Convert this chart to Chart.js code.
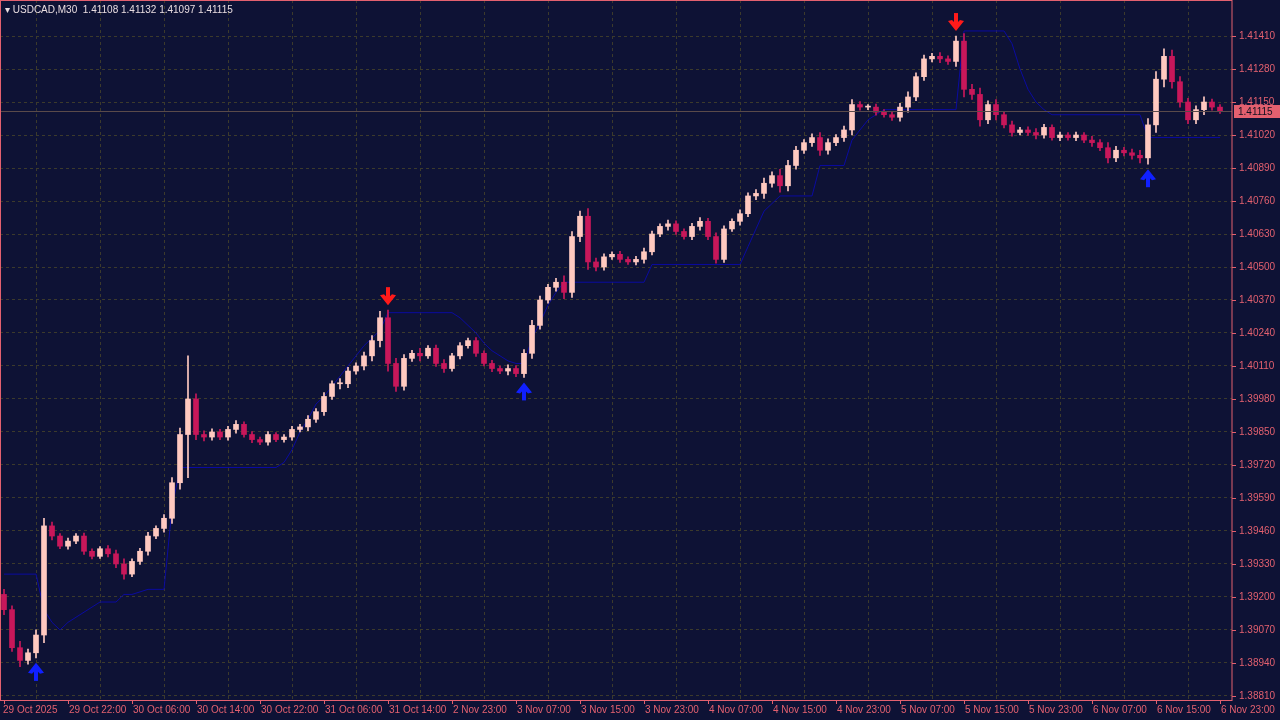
<!DOCTYPE html>
<html>
<head>
<meta charset="utf-8">
<script src="https://cdn.jsdelivr.net/npm/chart.js@4.4.1/dist/chart.umd.min.js"></script>
<style>
  html, body { margin: 0; padding: 0; background: #0e1235; }
  #wrap { width: 1280px; height: 720px; position: relative; }
</style>
</head>
<body>
<div id="wrap"><canvas id="chart" width="1280" height="720"></canvas></div>
<script>
"use strict";

// hourly closes (first open given separately)
var firstOpen = 1.3921;
var closes = [
  1.3915, 1.3900, 1.3895, 1.3898, 1.3905, 1.3948, 1.3944, 1.3940, 1.3942, 1.3944,
  1.3938, 1.3936, 1.3939, 1.3937, 1.3933, 1.3929, 1.3934, 1.3938, 1.3944, 1.3947,
  1.3951, 1.3965, 1.3984, 1.3998, 1.3984, 1.3983, 1.3985, 1.3983, 1.3986, 1.3988,
  1.3984, 1.3982, 1.3981, 1.3984, 1.3982, 1.3983, 1.3986, 1.3987, 1.3990, 1.3993,
  1.3999, 1.4004, 1.4004, 1.4009, 1.4011, 1.4015, 1.4021, 1.4030, 1.4012, 1.4003,
  1.4014, 1.4016, 1.4015, 1.4018, 1.4012, 1.4010, 1.4015, 1.4019, 1.4021, 1.4016,
  1.4012, 1.4010, 1.4009, 1.4010, 1.4008, 1.4016, 1.4027, 1.4037, 1.4042, 1.4044,
  1.4040, 1.4062, 1.4070, 1.4052, 1.4050, 1.4054, 1.4055, 1.4053, 1.4052, 1.4053,
  1.4056, 1.4063, 1.4066, 1.4067, 1.4064, 1.4062, 1.4066, 1.4068, 1.4062, 1.4053,
  1.4065, 1.4068, 1.4071, 1.4078, 1.4079, 1.4083, 1.4086, 1.4082, 1.4090, 1.4096,
  1.4099, 1.4101, 1.4096, 1.4099, 1.4101, 1.4104, 1.4114, 1.4113, 1.4113, 1.4111,
  1.4110, 1.4109, 1.4113, 1.4117, 1.4125, 1.4132, 1.4133, 1.4132, 1.4131, 1.4139,
  1.4120, 1.4118, 1.4108, 1.4114, 1.4110, 1.4106, 1.4103, 1.4104, 1.4103, 1.4102,
  1.4105, 1.4101, 1.4102, 1.4101, 1.4102, 1.4100, 1.4099, 1.4097, 1.4093, 1.4096,
  1.4095, 1.4094, 1.4093, 1.4106, 1.4124, 1.4133, 1.4123, 1.4115, 1.4108, 1.4112,
  1.4115, 1.4113, 1.41115
];

// wick length per candle, in units of 0.00001
var wicks = [
  20, 15, 25, 15, 20, 30, 15, 10, 12, 10,
  12, 10, 8, 12, 15, 20, 10, 12, 15, 10,
  15, 20, 25, 170, 20, 15, 12, 10, 12, 15,
  10, 12, 10, 12, 8, 10, 12, 10, 15, 12,
  15, 12, 20, 15, 12, 15, 20, 25, 30, 20,
  15, 12, 20, 10, 12, 15, 10, 12, 10, 12,
  10, 12, 10, 15, 12, 15, 20, 15, 12, 15,
  25, 20, 20, 30, 15, 12, 10, 12, 10, 12,
  15, 12, 10, 15, 12, 10, 12, 15, 12, 15,
  12, 10, 15, 12, 15, 20, 15, 25, 20, 15,
  12, 15, 20, 15, 12, 15, 20, 12, 10, 12,
  10, 12, 15, 20, 15, 15, 12, 15, 12, 20,
  30, 20, 25, 15, 20, 12, 15, 10, 12, 15,
  12, 10, 12, 10, 12, 10, 15, 12, 20, 15,
  12, 15, 20, 25, 30, 30, 25, 20, 15, 15,
  20, 12, 10
];

// trend stop line
var stopLine = [
  1.3929, 1.3929, 1.3929, 1.3929, 1.3929, 1.3915, 1.3910, 1.3907, 1.3910, 1.3912,
  1.3914, 1.3916, 1.3918, 1.3918, 1.3918, 1.3921, 1.3921, 1.3922, 1.3923, 1.3923,
  1.3923, 1.3955, 1.3971, 1.3971, 1.3971, 1.3971, 1.3971, 1.3971, 1.3971, 1.3971,
  1.3971, 1.3971, 1.3971, 1.3971, 1.3971, 1.3973, 1.3978, 1.3985, 1.3990, 1.3996,
  1.3999, 1.4003, 1.4007, 1.4011, 1.4015, 1.4019, 1.4022, 1.4025, 1.4032, 1.4032,
  1.4032, 1.4032, 1.4032, 1.4032, 1.4032, 1.4032, 1.4032, 1.4030, 1.4027, 1.4024,
  1.4020, 1.4017, 1.4015, 1.4013, 1.4012, 1.4012, 1.4022, 1.4028, 1.4035, 1.4040,
  1.4044, 1.4044, 1.4044, 1.4044, 1.4044, 1.4044, 1.4044, 1.4044, 1.4044, 1.4044,
  1.4044, 1.4051, 1.4051, 1.4051, 1.4051, 1.4051, 1.4051, 1.4051, 1.4051, 1.4051,
  1.4051, 1.4051, 1.4051, 1.4058, 1.4065, 1.4072, 1.4075, 1.4078, 1.4078, 1.4078,
  1.4078, 1.4078, 1.4090, 1.4090, 1.4090, 1.4090, 1.4100, 1.4104, 1.4108, 1.4110,
  1.4112, 1.4112, 1.4112, 1.4112, 1.4112, 1.4112, 1.4112, 1.4112, 1.4112, 1.4112,
  1.4143, 1.4143, 1.4143, 1.4143, 1.4143, 1.4143, 1.4138, 1.4128, 1.4120, 1.4115,
  1.4112, 1.4110, 1.4110, 1.4110, 1.4110, 1.4110, 1.4110, 1.4110, 1.4110, 1.4110,
  1.4110, 1.4110, 1.4110, 1.4101, 1.4101, 1.4101, 1.4101, 1.4101, 1.4101, 1.4101,
  1.4101, 1.4101, 1.4101
];

// time labels every 8 hourly bars
var timeLabels = [
  "29 Oct 2025", "29 Oct 22:00", "30 Oct 06:00", "30 Oct 14:00", "30 Oct 22:00",
  "31 Oct 06:00", "31 Oct 14:00", "2 Nov 23:00", "3 Nov 07:00", "3 Nov 15:00",
  "3 Nov 23:00", "4 Nov 07:00", "4 Nov 15:00", "4 Nov 23:00", "5 Nov 07:00",
  "5 Nov 15:00", "5 Nov 23:00", "6 Nov 07:00", "6 Nov 15:00", "6 Nov 23:00"
];

var priceTicks = [1.38810, 1.38940, 1.39070, 1.39200, 1.39330, 1.39460, 1.39590, 1.39720,
  1.39850, 1.39980, 1.40110, 1.40240, 1.40370, 1.40500, 1.40630, 1.40760, 1.40890,
  1.41020, 1.41150, 1.41280, 1.41410];

var arrowsUp = [4, 65, 143];
var arrowsDown = [48, 119];
var lastPrice = 1.41115;

var opens = closes.map(function (c, i) { return i === 0 ? firstOpen : closes[i - 1]; });
var bodies = closes.map(function (c, i) { return { x: i, y: [opens[i], c] }; });
var ranges = closes.map(function (c, i) {
  var w = wicks[i] / 100000;
  return { x: i, y: [Math.min(opens[i], c) - w, Math.max(opens[i], c) + w] };
});
var stopPts = stopLine.map(function (v, i) { return { x: i, y: v }; });
var colors = closes.map(function (c, i) { return c >= opens[i] ? "#ffc9c0" : "#c8175a"; });

var AXIS = "#e3606f";
var FONT = "10px 'Liberation Sans', Arial, sans-serif";

var decorPlugin = {
  id: "decor",
  beforeDraw: function (chart) {
    var ctx = chart.ctx;
    ctx.save();
    ctx.fillStyle = "#0e1235";
    ctx.fillRect(0, 0, chart.width, chart.height);
    ctx.restore();
  },
  afterDatasetsDraw: function (chart) {
    var ctx = chart.ctx, xs = chart.scales.x, ys = chart.scales.y, area = chart.chartArea;
    ctx.save();
    // last price line
    var py = Math.round(ys.getPixelForValue(lastPrice));
    ctx.strokeStyle = "#5a4a4a";
    ctx.lineWidth = 1;
    ctx.beginPath(); ctx.moveTo(area.left, py + 0.5); ctx.lineTo(area.right, py + 0.5); ctx.stroke();
    // arrows
    function arrow(x, y, dir, col) {
      ctx.strokeStyle = col; ctx.fillStyle = col; ctx.lineWidth = 4;
      ctx.beginPath(); ctx.moveTo(x, y + dir * 4); ctx.lineTo(x, y + dir * 18); ctx.stroke();
      ctx.beginPath();
      ctx.moveTo(x - 8, y + dir * 10); ctx.lineTo(x, y); ctx.lineTo(x + 8, y + dir * 10);
      ctx.lineTo(x + 4, y + dir * 11); ctx.lineTo(x, y + dir * 7); ctx.lineTo(x - 4, y + dir * 11);
      ctx.closePath(); ctx.fill();
    }
    arrowsUp.forEach(function (i) {
      arrow(xs.getPixelForValue(i), ys.getPixelForValue(ranges[i].y[0]) + 5, 1, "#1020ff");
    });
    arrowsDown.forEach(function (i) {
      arrow(xs.getPixelForValue(i), ys.getPixelForValue(ranges[i].y[1]) - 5, -1, "#ff1a1a");
    });
    // frame
    ctx.strokeStyle = AXIS; ctx.lineWidth = 1;
    ctx.strokeRect(0.5, 0.5, area.right - 0.5, area.bottom);
    // x labels, left aligned at tick
    ctx.fillStyle = AXIS;
    ctx.font = FONT;
    ctx.textBaseline = "top";
    timeLabels.forEach(function (l, k) {
      var x = Math.round(xs.getPixelForValue(k * 8));
      ctx.fillRect(x, area.bottom, 1, 4);
      ctx.fillText(l, x + (k === 0 ? -1 : 1), area.bottom + 5);
    });
    // y labels
    ctx.textBaseline = "middle";
    priceTicks.forEach(function (v) {
      var y = Math.round(ys.getPixelForValue(v)) + 0.5;
      ctx.fillRect(area.right, y - 0.5, 4, 1);
      ctx.fillText(v.toFixed(5), area.right + 7, y);
    });
    // last price box
    ctx.fillStyle = "#e3606f";
    ctx.fillRect(area.right + 2, py - 6, 46, 13);
    ctx.fillStyle = "#101020";
    ctx.fillText(lastPrice.toFixed(5), area.right + 6, py + 1);
    // header
    ctx.fillStyle = "#e8dce0";
    ctx.font = "10px 'Liberation Sans', Arial, sans-serif";
    ctx.fillText("\u25BE USDCAD,M30  1.41108 1.41132 1.41097 1.41115", 5, 10);
    ctx.restore();
  }
};

new Chart(document.getElementById("chart"), {
  type: "bar",
  data: {
    datasets: [
      {
        type: "line", data: stopPts, borderColor: "#0a0aa0", borderWidth: 1,
        pointRadius: 0, tension: 0, order: 3
      },
      {
        data: ranges, backgroundColor: colors, barThickness: 1, grouped: false, order: 2
      },
      {
        data: bodies, backgroundColor: colors, barThickness: 5, grouped: false, order: 1,
        minBarLength: 1
      }
    ]
  },
  options: {
    responsive: false,
    animation: false,
    layout: { padding: 0 },
    plugins: { legend: { display: false }, tooltip: { enabled: false } },
    scales: {
      x: {
        type: "linear",
        offset: false,
        min: -0.5, max: 153.5,
        afterFit: function (s) { s.height = 20; },
        afterBuildTicks: function (s) { s.ticks = timeLabels.map(function (l, k) { return { value: k * 8 }; }); },
        grid: { color: "#3c3a2c", drawTicks: false },
        border: { display: false, dash: [3, 3] },
        ticks: { display: false }
      },
      y: {
        position: "right",
        min: 1.38794, max: 1.41552,
        afterFit: function (s) { s.width = 48; },
        afterBuildTicks: function (s) { s.ticks = priceTicks.map(function (v) { return { value: v }; }); },
        grid: { color: "#3c3a2c", drawTicks: false },
        border: { display: false, dash: [3, 3] },
        ticks: { display: false }
      }
    }
  },
  plugins: [decorPlugin]
});
</script>
</body>
</html>
